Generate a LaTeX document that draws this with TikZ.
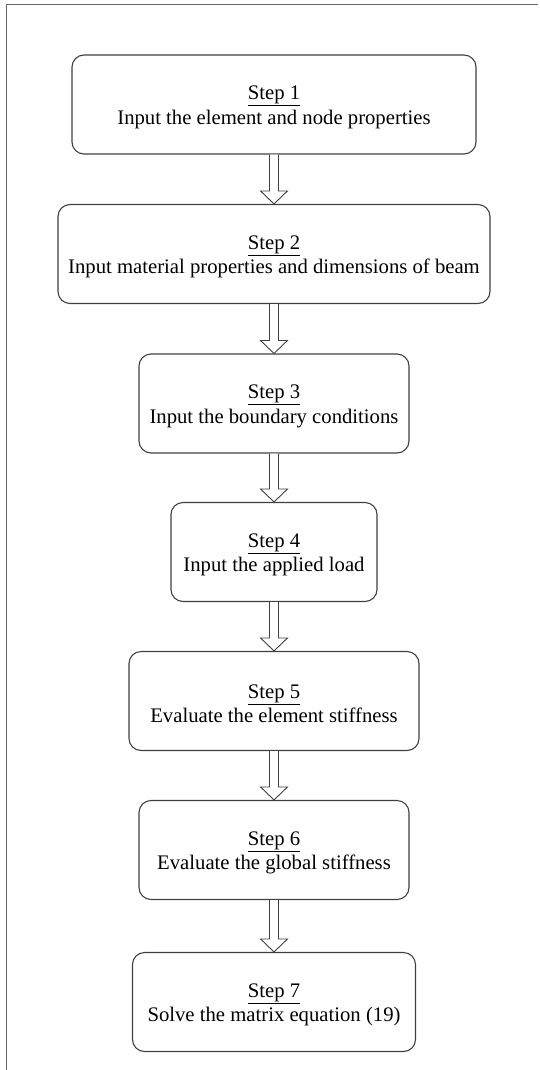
\documentclass[tikz,border=0pt]{standalone}
\usepackage{fontspec}
\setmainfont{Liberation Serif}
\usetikzlibrary{calc}
\newcommand{\steptitle}[1]{\rule{0pt}{19pt}\underline{#1}}
\tikzset{
  stepbox/.style={draw=black!75, line width=1.1pt, rounded corners=12pt, minimum height=99pt,
    align=center, font=\fontsize{20.7}{24.5}\selectfont, inner sep=0pt},
  hollow/.style={draw=black!75, line width=0.9pt, fill=white},
  frameline/.style={draw=black!60, line width=1pt}
}
\begin{document}
\begin{tikzpicture}[x=1pt,y=1pt]
\useasboundingbox (0,0) rectangle (539,-1070);
\coordinate (ftl) at (6,-5);
\coordinate (ftr) at (538,-5);
\coordinate (fbl) at (6,-1070);
\draw[frameline] (fbl) -- (ftl) -- (ftr);
\node[stepbox, minimum width=404pt] (b1) at (274,-104.5) {\steptitle{Step 1}\\Input the element and node properties};
\node[stepbox, minimum width=432pt] (b2) at (274,-254) {\steptitle{Step 2}\\Input material properties and dimensions of beam};
\node[stepbox, minimum width=270pt] (b3) at (274,-403.5) {\steptitle{Step 3}\\Input the boundary conditions};
\node[stepbox, minimum width=206pt] (b4) at (274,-552) {\steptitle{Step 4}\\Input the applied load};
\node[stepbox, minimum width=290pt] (b5) at (274,-701) {\steptitle{Step 5}\\Evaluate the element stiffness};
\node[stepbox, minimum width=270pt] (b6) at (274,-850) {\steptitle{Step 6}\\Evaluate the global stiffness};
\node[stepbox, minimum width=283pt] (b7) at (274,-1002) {\steptitle{Step 7}\\Solve the matrix equation (19)};
\foreach \a/\b in {b1/b2,b2/b3,b3/b4,b4/b5,b5/b6,b6/b7}{
  \draw[hollow] ($(\a.south)+(-4.5,0)$) -- ($(\b.north)+(-4.5,13)$) -- ($(\b.north)+(-13.5,13)$)
    -- (\b.north) -- ($(\b.north)+(13.5,13)$) -- ($(\b.north)+(4.5,13)$) -- ($(\a.south)+(4.5,0)$);
}
\end{tikzpicture}
\end{document}
